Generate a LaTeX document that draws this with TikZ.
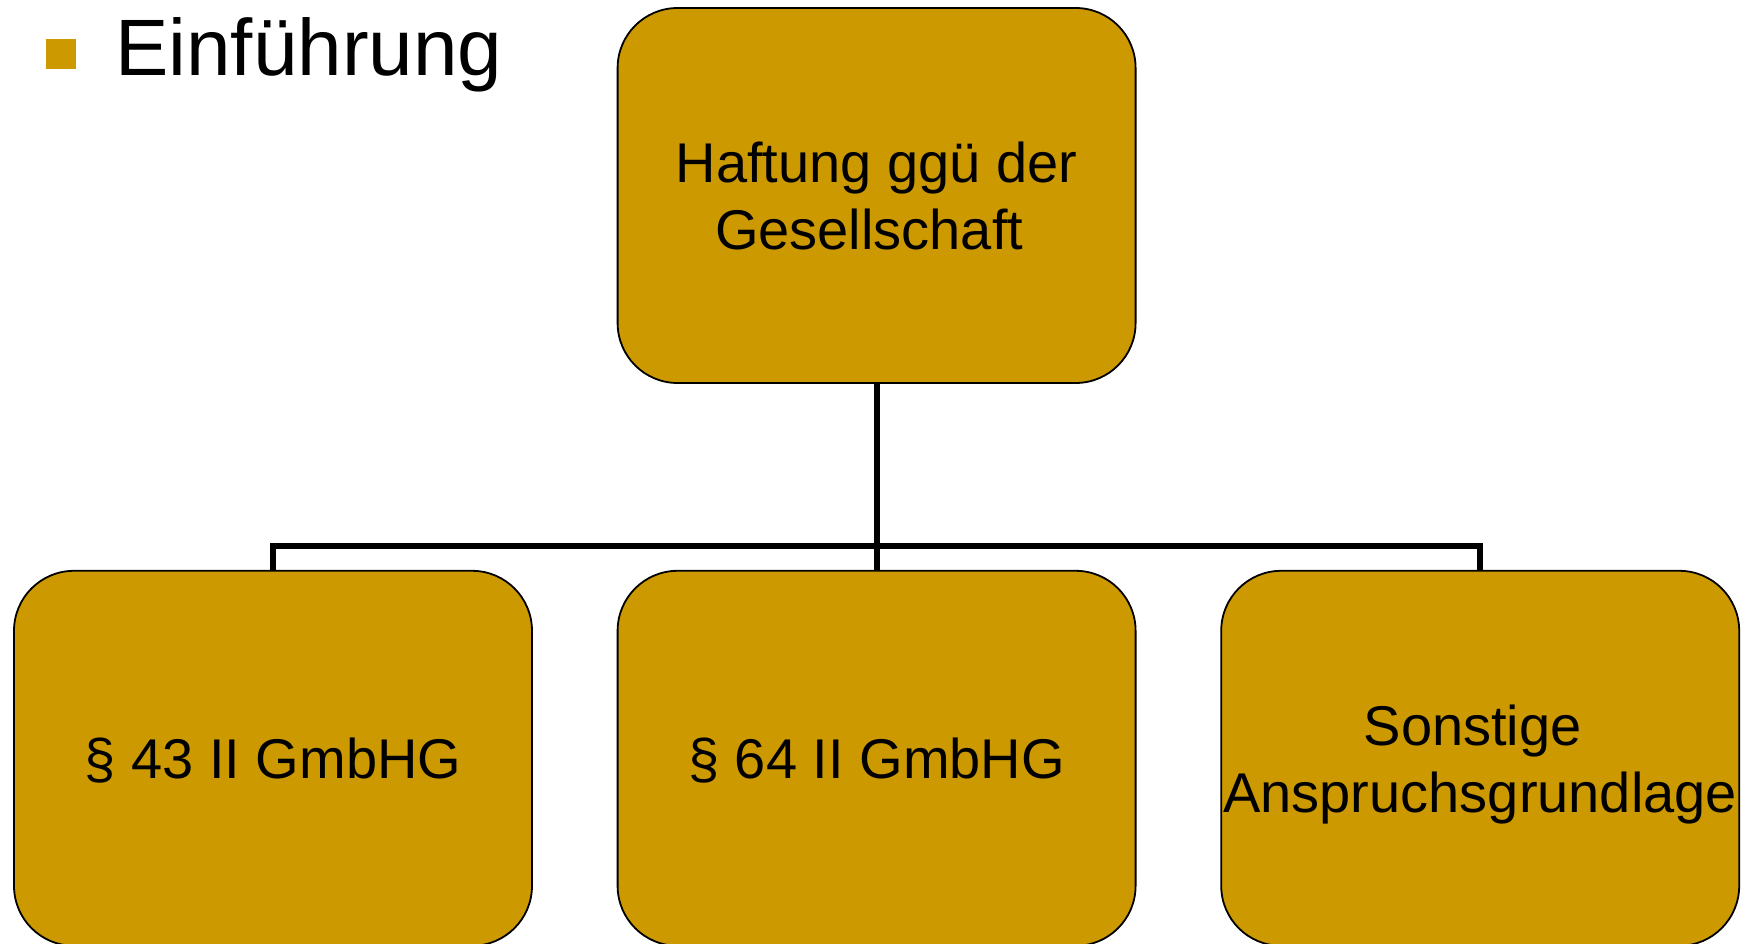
\documentclass[tikz,border=0pt]{standalone}
\usepackage{fontspec}
\setmainfont{Liberation Sans}
\definecolor{gold}{RGB}{204,153,0}
\begin{document}
\begin{tikzpicture}[x=1pt,y=-1pt,
  box/.style={draw=black, line width=1.8pt, fill=gold, rounded corners=60pt,
    minimum width=518pt, minimum height=375pt, inner sep=0pt, align=center,
    font=\fontsize{56}{67}\selectfont, text depth=0pt},
  single/.style={text height=40pt},
  conn/.style={draw=black, line width=6pt}]
\fill[white] (0,0) rectangle (1751,944);
\useasboundingbox (0,0) rectangle (1751,944);
\node[fill=gold, minimum size=30pt, inner sep=0pt] (bullet) at (61,54) {};
\node[anchor=base west, inner sep=0pt, font=\fontsize{80}{96}\selectfont] (title) at (115,76) {Einführung};
\node[box] (top) at (876.6,195.5) {Haftung ggü der\\Gesellschaft\kern15pt};
\node[box, single] (b1) at (273,758.3) {§ 43 II GmbHG};
\node[box, single] (b2) at (876.6,758.3) {§ 64 II GmbHG};
\node[box] (b3) at (1480.2,758.3) {Sonstige\kern15pt\\Anspruchsgrundlage};
\coordinate (bus) at (876.6,546);
\draw[conn] (top.south) -- (bus);
\draw[conn] (b1.north) |- (bus) -| (b3.north);
\draw[conn] (bus) -- (b2.north);
\end{tikzpicture}
\end{document}
